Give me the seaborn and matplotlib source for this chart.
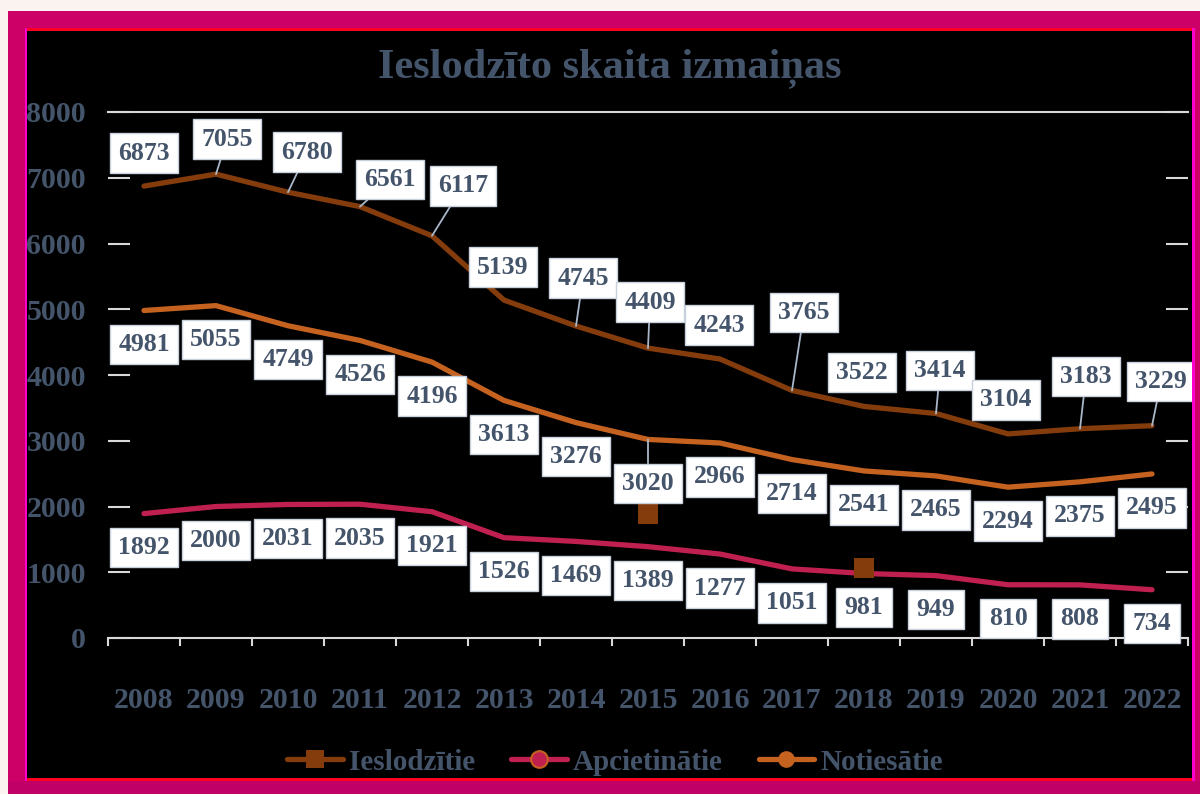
import numpy as np
import pandas as pd
import matplotlib
matplotlib.use("Agg")
import matplotlib.pyplot as plt
from matplotlib.lines import Line2D
from matplotlib.patches import Rectangle
import seaborn as sns

# data
years = [str(y) for y in range(2008, 2023)]
ieslodzitie = [6873, 7055, 6780, 6561, 6117, 5139, 4745, 4409, 4243, 3765,
               3522, 3414, 3104, 3183, 3229]
apcietinatie = [1892, 2000, 2031, 2035, 1921, 1526, 1469, 1389, 1277, 1051,
                981, 949, 810, 808, 734]
notiesatie = [4981, 5055, 4749, 4526, 4196, 3613, 3276, 3020, 2966, 2714,
              2541, 2465, 2294, 2375, 2495]
# two loose markers left on the chart
stray_years = ["2015", "2018"]
stray_values = [1890, 1060]

series_names = ["Ieslodzītie", "Apcietinātie", "Notiesātie"]
title = "Ieslodzīto skaita izmaiņas"

BROWN = "#843C0C"
CRIMSON = "#C0204F"
ORANGE = "#C5621F"
TEXT = "#44546A"
GRID = "#D9D9D9"
W, H = 1200, 794

sns.set_theme(style="white")
plt.rcParams["font.family"] = ["Liberation Serif", "DejaVu Serif"]
plt.rcParams["font.weight"] = "bold"

df = pd.DataFrame({
    "pos": list(range(len(years))) * 3,
    "value": ieslodzitie + apcietinatie + notiesatie,
    "series": [s for s in series_names for _ in years],
})

fig = plt.figure(figsize=(W / 100, H / 100), dpi=100)
fig.patch.set_facecolor("black")


def px_rect(x0, y0, x1, y1, color, z):
    # rectangle given in pixel coords, origin top-left
    fig.add_artist(Rectangle((x0 / W, 1 - y1 / H), (x1 - x0) / W, (y1 - y0) / H,
                             transform=fig.transFigure, facecolor=color,
                             edgecolor="none", zorder=z))


ax = fig.add_axes([108 / W, (H - 638) / H, 1080 / W, 526 / H])
ax.set_facecolor("black")

sns.lineplot(data=df, x="pos", y="value", hue="series", hue_order=series_names,
             palette=[BROWN, CRIMSON, ORANGE], linewidth=3.8, legend=False,
             sort=False, ax=ax)
for ln in ax.lines:
    ln.set_solid_capstyle("round")
    ln.set_solid_joinstyle("round")

sns.scatterplot(x=[years.index(y) for y in stray_years], y=stray_values,
                marker="s", s=190, color=BROWN, linewidth=0, ax=ax, zorder=5)

# label offsets in pixels (dx, dy up)
off_ies = [(0, 33), (11, 35), (19, 40), (30, 27), (31, 50), (-1, 33), (7, 48),
           (2, 46), (-1, 34), (12, 78), (-2, 34), (4, 43), (-2, 34), (6, 52), (9, 44)]
lead_ies = [False, True, True, True, True, False, True, True, False, True,
            False, True, False, True, True]
off_not = [(0, -34)] * 15
off_not[7] = (0, -44)
lead_not = [i == 7 for i in range(15)]
off_apc = [(0, -34)] * 15
lead_apc = [False] * 15

for vals, offs, leads in [(ieslodzitie, off_ies, lead_ies),
                          (notiesatie, off_not, lead_not),
                          (apcietinatie, off_apc, lead_apc)]:
    for i, v in enumerate(vals):
        ax.annotate(f"{v}", xy=(i, v), xytext=offs[i], textcoords="offset pixels",
                    ha="center", va="center", fontsize=18.5, fontweight="bold",
                    color=TEXT, zorder=6, annotation_clip=False,
                    bbox=dict(boxstyle="square,pad=0.32", fc="white", ec="#C8D1DC", lw=1),
                    arrowprops=dict(arrowstyle="-", color="#A9B7C9", lw=1.3,
                                    shrinkA=0, shrinkB=0) if leads[i] else None)

ax.set_xlim(-0.5, len(years) - 0.5)
ax.set_ylim(0, 8000)
ax.set_xlabel("")
ax.set_ylabel("")
ax.set_xticks(range(len(years)))
ax.set_xticklabels(years)
ax.set_xticks(np.arange(-0.5, len(years), 1), minor=True)
ax.set_yticks(range(0, 8001, 1000))
ax.tick_params(axis="x", which="major", length=0, pad=35, labelsize=21.5,
               labelcolor=TEXT)
ax.tick_params(axis="x", which="minor", length=6, width=1.5, color=GRID,
               direction="out", bottom=True)
ax.tick_params(axis="y", which="major", direction="in", length=16, width=1.5,
               color=GRID, left=True, right=True, pad=16, labelsize=21.5,
               labelcolor=TEXT)
for lab in ax.get_xticklabels() + ax.get_yticklabels():
    lab.set_fontweight("bold")
ax.grid(False)
for side in ["left", "right"]:
    ax.spines[side].set_visible(False)
for side in ["top", "bottom"]:
    ax.spines[side].set_visible(True)
    ax.spines[side].set_color(GRID)
    ax.spines[side].set_linewidth(1.5)

fig.text(610 / W, 1 - 77 / H, title, ha="center", va="baseline",
         fontsize=30.5, fontweight="bold", color=TEXT)

handles = [
    Line2D([], [], color=BROWN, lw=3.8, marker="s", markersize=13,
           markeredgewidth=0, solid_capstyle="round"),
    Line2D([], [], color=CRIMSON, lw=3.8, marker="o", markersize=12,
           markerfacecolor=CRIMSON, markeredgecolor=ORANGE, markeredgewidth=1.5,
           solid_capstyle="round"),
    Line2D([], [], color=ORANGE, lw=3.8, marker="o", markersize=12,
           markeredgewidth=0, solid_capstyle="round"),
]
ax.legend(handles, series_names, loc="center", bbox_to_anchor=(615 / W, 1 - 762 / H),
          bbox_transform=fig.transFigure, ncol=3, frameon=False,
          prop={"size": 21, "weight": "bold"}, labelcolor=TEXT,
          handlelength=1.9, handletextpad=0.2, columnspacing=1.25)

# slide frame
px_rect(0, 0, W, 11, "#FAF3EF", 10)
px_rect(0, 0, 8, H, "#FAF3EF", 10)
px_rect(8, 11, W, 28, "#CC0066", 10)
px_rect(8, 11, 25, H, "#CC0066", 10)
px_rect(1195, 11, W, H, "#CC0066", 10)
px_rect(8, 781, W, H, "#C00066", 10)
px_rect(25, 28, W - 5, 31, "#FF0022", 11)
px_rect(25, 778, W - 5, 781, "#FF0022", 11)
px_rect(25, 28, 27, 781, "#FF00CC", 11)
px_rect(1192, 28, 1195, 781, "#FF00CC", 11)

fig.savefig("out.png", dpi=100, facecolor=fig.get_facecolor())
